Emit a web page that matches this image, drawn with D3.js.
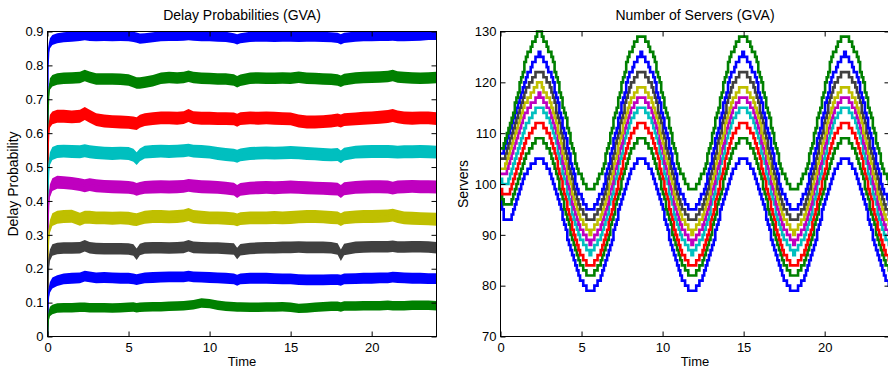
<!DOCTYPE html>
<html>
<head>
<meta charset="utf-8">
<script src="https://cdn.jsdelivr.net/npm/d3@7"></script>
<style>
  body { margin: 0; background: #fff; }
  svg { display: block; }
</style>
</head>
<body>
<svg id="chart" width="888" height="369"></svg>
<script>
// ---- tick values ----
const timeTicks = [0, 5, 10, 15, 20];
const delayTicks = [0, 0.1, 0.2, 0.3, 0.4, 0.5, 0.6, 0.7, 0.8, 0.9];
const serverTicks = [70, 80, 90, 100, 110, 120, 130];

// one colour per staffing level (MATLAB default cycle)
const seriesColors = ["#0000ff", "#008000", "#ff0000", "#00bfbf", "#bf00bf", "#bfbf00", "#404040", "#0000ff", "#008000"];

// ---- delay probabilities: band centre over time, plus noise half-width per series ----
const delayTimes = [
  0, 0.03, 0.08, 0.15, 0.3, 0.6,
  1, 1.5, 2, 2.3, 2.6, 3,
  3.5, 4, 4.5, 5, 5.3, 5.5,
  5.7, 6, 6.5, 7, 7.5, 8,
  8.4, 8.7, 9, 9.5, 10, 10.5,
  11, 11.5, 11.7, 11.9, 12.5, 13,
  13.5, 14, 14.5, 15, 15.5, 16,
  16.5, 17, 17.5, 17.9, 18.1, 18.3,
  19, 19.5, 20, 20.5, 21, 21.3,
  21.6, 22, 22.5, 23, 23.5, 24
];
const delay1 = [
  0, 0.80, 0.85, 0.865, 0.875, 0.88,
  0.883, 0.885, 0.887, 0.889, 0.887, 0.886,
  0.887, 0.886, 0.887, 0.886, 0.884, 0.882,
  0.879, 0.880, 0.883, 0.886, 0.887, 0.887,
  0.888, 0.889, 0.888, 0.886, 0.886, 0.885,
  0.884, 0.880, 0.877, 0.880, 0.884, 0.885,
  0.885, 0.884, 0.885, 0.885, 0.884, 0.885,
  0.885, 0.884, 0.883, 0.881, 0.877, 0.881,
  0.885, 0.886, 0.886, 0.887, 0.887, 0.888,
  0.886, 0.886, 0.887, 0.888, 0.890, 0.890
];
const delay2 = [
  0, 0.66, 0.72, 0.745, 0.755, 0.76,
  0.762, 0.763, 0.764, 0.770, 0.765, 0.760,
  0.760, 0.760, 0.759, 0.757, 0.752, 0.748,
  0.748, 0.750, 0.755, 0.762, 0.764, 0.763,
  0.764, 0.768, 0.764, 0.762, 0.761, 0.760,
  0.760, 0.757, 0.752, 0.756, 0.762, 0.763,
  0.762, 0.762, 0.763, 0.762, 0.765, 0.762,
  0.761, 0.760, 0.759, 0.757, 0.753, 0.758,
  0.763, 0.764, 0.765, 0.766, 0.767, 0.770,
  0.766, 0.764, 0.763, 0.762, 0.763, 0.764
];
const delay3 = [
  0, 0.55, 0.61, 0.635, 0.645, 0.65,
  0.650, 0.648, 0.650, 0.658, 0.650, 0.640,
  0.636, 0.634, 0.633, 0.632, 0.630, 0.628,
  0.635, 0.640, 0.643, 0.645, 0.645, 0.644,
  0.646, 0.652, 0.646, 0.644, 0.644, 0.643,
  0.643, 0.642, 0.638, 0.643, 0.645, 0.644,
  0.645, 0.644, 0.643, 0.642, 0.636, 0.633,
  0.633, 0.634, 0.636, 0.639, 0.636, 0.640,
  0.642, 0.644, 0.645, 0.647, 0.649, 0.652,
  0.648, 0.645, 0.644, 0.645, 0.645, 0.643
];
const delay4 = [
  0, 0.44, 0.50, 0.525, 0.540, 0.546,
  0.547, 0.546, 0.545, 0.548, 0.545, 0.543,
  0.541, 0.540, 0.541, 0.540, 0.535, 0.525,
  0.536, 0.544, 0.546, 0.547, 0.546, 0.547,
  0.548, 0.550, 0.547, 0.546, 0.544, 0.540,
  0.537, 0.535, 0.532, 0.536, 0.540, 0.541,
  0.542, 0.541, 0.542, 0.543, 0.542, 0.540,
  0.539, 0.537, 0.536, 0.537, 0.530, 0.538,
  0.544, 0.545, 0.546, 0.546, 0.546, 0.545,
  0.544, 0.545, 0.545, 0.546, 0.545, 0.544
];
const delay5 = [
  0, 0.34, 0.40, 0.43, 0.448, 0.455,
  0.454, 0.452, 0.448, 0.445, 0.448, 0.445,
  0.443, 0.442, 0.441, 0.440, 0.438, 0.434,
  0.437, 0.440, 0.441, 0.442, 0.441, 0.442,
  0.443, 0.446, 0.444, 0.442, 0.441, 0.440,
  0.438, 0.435, 0.428, 0.434, 0.438, 0.439,
  0.440, 0.439, 0.440, 0.441, 0.440, 0.439,
  0.438, 0.437, 0.436, 0.435, 0.428, 0.436,
  0.440, 0.441, 0.442, 0.442, 0.441, 0.438,
  0.441, 0.442, 0.443, 0.442, 0.442, 0.441
];
const delay6 = [
  0, 0.25, 0.30, 0.325, 0.345, 0.352,
  0.354, 0.355, 0.346, 0.352, 0.352, 0.350,
  0.350, 0.349, 0.350, 0.349, 0.346, 0.345,
  0.348, 0.352, 0.354, 0.354, 0.353, 0.354,
  0.356, 0.360, 0.354, 0.352, 0.350, 0.350,
  0.349, 0.347, 0.344, 0.348, 0.350, 0.350,
  0.350, 0.351, 0.350, 0.351, 0.353, 0.354,
  0.354, 0.353, 0.351, 0.350, 0.345, 0.350,
  0.353, 0.354, 0.354, 0.355, 0.356, 0.358,
  0.354, 0.350, 0.349, 0.348, 0.347, 0.346
];
const delay7 = [
  0, 0.17, 0.22, 0.24, 0.255, 0.260,
  0.261, 0.261, 0.262, 0.268, 0.262, 0.260,
  0.259, 0.259, 0.259, 0.258, 0.255, 0.243,
  0.257, 0.261, 0.262, 0.262, 0.261, 0.262,
  0.263, 0.268, 0.263, 0.262, 0.261, 0.261,
  0.260, 0.258, 0.245, 0.256, 0.260, 0.261,
  0.262, 0.262, 0.263, 0.263, 0.264, 0.263,
  0.263, 0.263, 0.262, 0.258, 0.240, 0.257,
  0.263, 0.264, 0.265, 0.265, 0.265, 0.266,
  0.264, 0.264, 0.265, 0.265, 0.264, 0.262
];
const delay8 = [
  0, 0.10, 0.13, 0.145, 0.158, 0.165,
  0.170, 0.172, 0.173, 0.178, 0.176, 0.173,
  0.174, 0.173, 0.172, 0.172, 0.170, 0.168,
  0.170, 0.173, 0.174, 0.175, 0.176, 0.176,
  0.176, 0.178, 0.176, 0.175, 0.174, 0.173,
  0.172, 0.170, 0.166, 0.170, 0.172, 0.172,
  0.172, 0.171, 0.170, 0.170, 0.168, 0.167,
  0.167, 0.167, 0.168, 0.168, 0.166, 0.170,
  0.171, 0.172, 0.172, 0.173, 0.173, 0.175,
  0.174, 0.173, 0.172, 0.172, 0.171, 0.171
];
const delay9 = [
  0, 0.04, 0.063, 0.074, 0.080, 0.084,
  0.085, 0.085, 0.086, 0.086, 0.085, 0.085,
  0.085, 0.084, 0.085, 0.086, 0.087, 0.085,
  0.086, 0.087, 0.088, 0.088, 0.089, 0.090,
  0.091, 0.092, 0.094, 0.099, 0.097, 0.092,
  0.089, 0.088, 0.087, 0.087, 0.086, 0.086,
  0.087, 0.087, 0.088, 0.086, 0.083, 0.084,
  0.086, 0.088, 0.089, 0.089, 0.087, 0.090,
  0.090, 0.091, 0.091, 0.091, 0.092, 0.091,
  0.091, 0.091, 0.092, 0.092, 0.092, 0.091
];
const delaySpread = [0.015, 0.017, 0.019, 0.019, 0.019, 0.019, 0.017, 0.016, 0.014];

// ---- number of servers: integer staffing, sampled every serverStep hours ----
const serverStep = 0.09817;
const servers1 = [
  97,95,93,93,93,93,93,94,95,96,97,98,99,100,101,102,102,103,103,104,104,104,
  105,105,105,
  105,105,104,104,103,103,102,101,100,99,98,97,96,95,93,
  92,91,89,88,87,86,85,84,83,82,81,81,80,80,79,79,79,
  79,79,80,80,81,81,82,83,84,85,86,87,88,89,91,
  92,93,95,96,97,98,99,100,101,102,103,103,104,104,105,105,105,
  105,105,104,104,103,103,102,101,100,99,98,97,96,95,93,
  92,91,89,88,87,86,85,84,83,82,81,81,80,80,79,79,79,
  79,79,80,80,81,81,82,83,84,85,86,87,88,89,91,
  92,93,95,96,97,98,99,100,101,102,103,103,104,104,105,105,105,
  105,105,104,104,103,103,102,101,100,99,98,97,96,95,93,
  92,91,89,88,87,86,85,84,83,82,81,81,80,80,79,79,79,
  79,79,80,80,81,81,82,83,84,85,86,87,88,89,91,
  92,93,95,96,97,98,99,100,101,102,103,103,104,104,105,105,105,
  105,105,104,104,103,103,102,101,100,99,98,97,96,95,93,
  92,91,89,88,87,86,85,84,83,82,81,81,80,80
];
const servers2 = [
  98,97,96,96,96,96,96,97,98,99,100,101,102,103,104,105,106,106,107,107,108,108,
  109,109,109,
  109,109,108,108,107,107,106,105,104,103,102,101,99,98,97,
  95,94,93,92,90,89,88,87,86,85,84,84,83,83,82,82,82,
  82,82,83,83,84,84,85,86,87,88,89,90,92,93,94,
  96,97,98,99,101,102,103,104,105,106,107,107,108,108,109,109,109,
  109,109,108,108,107,107,106,105,104,103,102,101,99,98,97,
  95,94,93,92,90,89,88,87,86,85,84,84,83,83,82,82,82,
  82,82,83,83,84,84,85,86,87,88,89,90,92,93,94,
  96,97,98,99,101,102,103,104,105,106,107,107,108,108,109,109,109,
  109,109,108,108,107,107,106,105,104,103,102,101,99,98,97,
  95,94,93,92,90,89,88,87,86,85,84,84,83,83,82,82,82,
  82,82,83,83,84,84,85,86,87,88,89,90,92,93,94,
  96,97,98,99,101,102,103,104,105,106,107,107,108,108,109,109,109,
  109,109,108,108,107,107,106,105,104,103,102,101,99,98,97,
  95,94,93,92,90,89,88,87,86,85,84,84,83,83
];
const servers3 = [
  99,98,98,98,98,98,99,100,101,102,103,104,105,106,107,108,109,109,110,110,111,111,
  112,112,112,
  112,112,111,111,110,110,109,108,107,106,105,103,102,101,99,
  98,97,95,94,93,91,90,89,88,87,86,86,85,85,84,84,84,
  84,84,85,85,86,86,87,88,89,90,91,93,94,95,97,
  98,99,101,102,103,105,106,107,108,109,110,110,111,111,112,112,112,
  112,112,111,111,110,110,109,108,107,106,105,103,102,101,99,
  98,97,95,94,93,91,90,89,88,87,86,86,85,85,84,84,84,
  84,84,85,85,86,86,87,88,89,90,91,93,94,95,97,
  98,99,101,102,103,105,106,107,108,109,110,110,111,111,112,112,112,
  112,112,111,111,110,110,109,108,107,106,105,103,102,101,99,
  98,97,95,94,93,91,90,89,88,87,86,86,85,85,84,84,84,
  84,84,85,85,86,86,87,88,89,90,91,93,94,95,97,
  98,99,101,102,103,105,106,107,108,109,110,110,111,111,112,112,112,
  112,112,111,111,110,110,109,108,107,106,105,103,102,101,99,
  98,97,95,94,93,91,90,89,88,87,86,86,85,85
];
const servers4 = [
  101,100,100,100,100,101,102,103,104,105,106,107,108,109,110,111,112,112,113,113,114,114,
  115,115,115,
  115,115,114,114,113,113,112,111,110,109,108,106,105,104,102,
  101,100,98,97,96,94,93,92,91,90,89,89,88,88,87,87,86,
  87,87,88,88,89,89,90,91,92,93,94,96,97,98,100,
  101,102,104,105,106,108,109,110,111,112,113,113,114,114,115,115,115,
  115,115,114,114,113,113,112,111,110,109,108,106,105,104,102,
  101,100,98,97,96,94,93,92,91,90,89,89,88,88,87,87,86,
  87,87,88,88,89,89,90,91,92,93,94,96,97,98,100,
  101,102,104,105,106,108,109,110,111,112,113,113,114,114,115,115,115,
  115,115,114,114,113,113,112,111,110,109,108,106,105,104,102,
  101,100,98,97,96,94,93,92,91,90,89,89,88,88,87,87,86,
  87,87,88,88,89,89,90,91,92,93,94,96,97,98,100,
  101,102,104,105,106,108,109,110,111,112,113,113,114,114,115,115,115,
  115,115,114,114,113,113,112,111,110,109,108,106,105,104,102,
  101,100,98,97,96,94,93,92,91,90,89,89,88,88
];
const servers5 = [
  102,102,102,102,103,104,105,106,107,108,109,110,111,112,113,114,114,115,115,116,116,116,
  117,117,118,
  117,117,116,116,115,115,114,113,112,111,110,108,107,106,104,
  103,102,100,99,98,96,95,94,93,92,91,91,90,90,89,89,88,
  89,89,90,90,91,91,92,93,94,95,96,98,99,100,102,
  103,104,106,107,108,110,111,112,113,114,115,115,116,116,117,117,117,
  117,117,116,116,115,115,114,113,112,111,110,108,107,106,104,
  103,102,100,99,98,96,95,94,93,92,91,91,90,90,89,89,88,
  89,89,90,90,91,91,92,93,94,95,96,98,99,100,102,
  103,104,106,107,108,110,111,112,113,114,115,115,116,116,117,117,117,
  117,117,116,116,115,115,114,113,112,111,110,108,107,106,104,
  103,102,100,99,98,96,95,94,93,92,91,91,90,90,89,89,88,
  89,89,90,90,91,91,92,93,94,95,96,98,99,100,102,
  103,104,106,107,108,110,111,112,113,114,115,115,116,116,117,117,117,
  117,117,116,116,115,115,114,113,112,111,110,108,107,106,104,
  103,102,100,99,98,96,95,94,93,92,91,91,90,90
];
const servers6 = [
  103,103,103,104,105,106,107,108,109,110,111,112,113,114,115,116,116,117,117,118,118,119,
  119,120,120,
  120,119,118,118,117,117,116,115,114,113,112,110,109,108,106,
  105,104,102,101,100,98,97,96,95,94,93,93,92,92,91,91,90,
  91,91,92,92,93,93,94,95,96,97,98,100,101,102,104,
  105,106,108,109,110,112,113,114,115,116,117,117,118,118,119,119,119,
  119,119,118,118,117,117,116,115,114,113,112,110,109,108,106,
  105,104,102,101,100,98,97,96,95,94,93,93,92,92,91,91,90,
  91,91,92,92,93,93,94,95,96,97,98,100,101,102,104,
  105,106,108,109,110,112,113,114,115,116,117,117,118,118,119,119,119,
  119,119,118,118,117,117,116,115,114,113,112,110,109,108,106,
  105,104,102,101,100,98,97,96,95,94,93,93,92,92,91,91,90,
  91,91,92,92,93,93,94,95,96,97,98,100,101,102,104,
  105,106,108,109,110,112,113,114,115,116,117,117,118,118,119,119,119,
  119,119,118,118,117,117,116,115,114,113,112,110,109,108,106,
  105,104,102,101,100,98,97,96,95,94,93,93,92,92
];
const servers7 = [
  105,105,105,106,107,108,109,110,111,112,113,114,115,116,117,118,119,119,120,120,121,121,
  122,122,122,
  122,122,121,121,120,120,119,118,117,116,114,113,112,110,109,
  107,106,105,103,102,101,99,98,97,96,95,95,94,94,93,93,93,
  93,93,94,94,95,95,96,97,98,99,101,102,103,105,106,
  108,109,110,112,113,114,116,117,118,119,120,120,121,121,122,122,122,
  122,122,121,121,120,120,119,118,117,116,114,113,112,110,109,
  107,106,105,103,102,101,99,98,97,96,95,95,94,94,93,93,93,
  93,93,94,94,95,95,96,97,98,99,101,102,103,105,106,
  108,109,110,112,113,114,116,117,118,119,120,120,121,121,122,122,122,
  122,122,121,121,120,120,119,118,117,116,114,113,112,110,109,
  107,106,105,103,102,101,99,98,97,96,95,95,94,94,93,93,93,
  93,93,94,94,95,95,96,97,98,99,101,102,103,105,106,
  108,109,110,112,113,114,116,117,118,119,120,120,121,121,122,122,122,
  122,122,121,121,120,120,119,118,117,116,114,113,112,110,109,
  107,106,105,103,102,101,99,98,97,96,95,95,94,94
];
const servers8 = [
  106,106,107,108,109,110,111,112,113,114,115,116,117,118,119,120,121,122,122,123,124,124,
  125,125,126,
  125,125,124,124,123,122,122,121,120,118,117,116,114,113,111,
  110,109,107,106,104,103,102,100,99,98,98,97,96,96,95,95,95,
  95,95,96,96,97,98,98,99,100,102,103,104,106,107,109,
  110,111,113,114,116,117,118,120,121,122,122,123,124,124,125,125,126,
  125,125,124,124,123,122,122,121,120,118,117,116,114,113,111,
  110,109,107,106,104,103,102,100,99,98,98,97,96,96,95,95,95,
  95,95,96,96,97,98,98,99,100,102,103,104,106,107,109,
  110,111,113,114,116,117,118,120,121,122,122,123,124,124,125,125,126,
  125,125,124,124,123,122,122,121,120,118,117,116,114,113,111,
  110,109,107,106,104,103,102,100,99,98,98,97,96,96,95,95,95,
  95,95,96,96,97,98,98,99,100,102,103,104,106,107,109,
  110,111,113,114,116,117,118,120,121,122,122,123,124,124,125,125,126,
  125,125,124,124,123,122,122,121,120,118,117,116,114,113,111,
  110,109,107,106,104,103,102,100,99,98,98,97,96,96
];
const servers9 = [
  107,107,108,109,110,111,112,113,114,116,117,118,120,121,122,124,125,126,126,127,128,128,
  129,130,130,
  130,129,128,128,127,126,126,125,124,122,121,120,118,117,115,
  114,113,111,110,108,107,106,104,103,102,102,101,100,100,99,99,99,
  99,99,100,100,101,102,102,103,104,106,107,108,110,111,113,
  114,115,117,118,120,121,122,124,125,126,126,127,128,128,129,129,129,
  129,129,128,128,127,126,126,125,124,122,121,120,118,117,115,
  114,113,111,110,108,107,106,104,103,102,102,101,100,100,99,99,99,
  99,99,100,100,101,102,102,103,104,106,107,108,110,111,113,
  114,115,117,118,120,121,122,124,125,126,126,127,128,128,129,129,129,
  129,129,128,128,127,126,126,125,124,122,121,120,118,117,115,
  114,113,111,110,108,107,106,104,103,102,102,101,100,100,99,99,99,
  99,99,100,100,101,102,102,103,104,106,107,108,110,111,113,
  114,115,117,118,120,121,122,124,125,126,126,127,128,128,129,129,129,
  129,129,128,128,127,126,126,125,124,122,121,120,118,117,115,
  114,113,111,110,108,107,106,104,103,102,102,101,100,100
];

const delaySeries = [delay1, delay2, delay3, delay4, delay5, delay6, delay7, delay8, delay9];
const serverSeries = [servers1, servers2, servers3, servers4, servers5, servers6, servers7, servers8, servers9];

// ---- layout ----
const FONT = "'Liberation Sans', Arial, Helvetica, sans-serif";
const plotTop = 31.5, plotBottom = 336.5;
const svg = d3.select("#chart");
svg.append("rect").attr("width", 888).attr("height", 369).attr("fill", "#fff");

function drawFrame(g, x, y, yTickValues, yFormat, title, yLabel, yLabelX) {
  const [x0, x1] = x.range();
  const tick = 5;

  const bottomAxis = g.append("g").attr("transform", `translate(0,${plotBottom})`)
    .call(d3.axisBottom(x).tickValues(timeTicks).tickSizeInner(-tick).tickSizeOuter(0).tickPadding(6).tickFormat(d3.format("d")));
  const leftAxis = g.append("g").attr("transform", `translate(${x0},0)`)
    .call(d3.axisLeft(y).tickValues(yTickValues).tickSizeInner(-tick).tickSizeOuter(0).tickPadding(4).tickFormat(yFormat));
  const topAxis = g.append("g").attr("transform", `translate(0,${plotTop})`)
    .call(d3.axisTop(x).tickValues(timeTicks).tickSizeInner(-tick).tickSizeOuter(0).tickFormat(""));
  const rightAxis = g.append("g").attr("transform", `translate(${x1},0)`)
    .call(d3.axisRight(y).tickValues(yTickValues).tickSizeInner(-tick).tickSizeOuter(0).tickFormat(""));

  [bottomAxis, leftAxis, topAxis, rightAxis].forEach(a => {
    a.attr("font-family", FONT).attr("font-size", 13);
    a.select(".domain").remove();
    a.selectAll(".tick line").attr("stroke", "#000").attr("stroke-width", 1);
    a.selectAll(".tick text").attr("fill", "#000");
  });

  g.append("rect")
    .attr("x", x0).attr("y", plotTop)
    .attr("width", x1 - x0).attr("height", plotBottom - plotTop)
    .attr("fill", "none").attr("stroke", "#000").attr("stroke-width", 1);

  const cx = (x0 + x1) / 2;
  g.append("text").attr("x", cx).attr("y", 19.5)
    .attr("text-anchor", "middle").attr("font-family", FONT).attr("font-size", 14)
    .attr("fill", "#000").text(title);
  g.append("text").attr("x", cx).attr("y", 366)
    .attr("text-anchor", "middle").attr("font-family", FONT).attr("font-size", 13)
    .attr("fill", "#000").text("Time");
  g.append("text")
    .attr("transform", `translate(${yLabelX},${(plotTop + plotBottom) / 2}) rotate(-90)`)
    .attr("text-anchor", "middle").attr("font-family", FONT).attr("font-size", 14)
    .attr("fill", "#000").text(yLabel);
}

// ---- left panel: delay probabilities ----
const xDelay = d3.scaleLinear().domain([0, 24]).range([47.5, 436.5]);
const yDelay = d3.scaleLinear().domain([0, 0.9]).range([plotBottom, plotTop]);

const left = svg.append("g");
svg.append("clipPath").attr("id", "clipLeft").append("rect")
  .attr("x", 47.5).attr("y", plotTop).attr("width", 389).attr("height", plotBottom - plotTop);

const leftPlot = left.append("g").attr("clip-path", "url(#clipLeft)");
delaySeries.forEach((vals, i) => {
  const pts = delayTimes.map((t, j) => [t, vals[j]]);
  const w = delaySpread[i];
  leftPlot.append("path")
    .datum(pts)
    .attr("fill", seriesColors[i])
    .attr("d", d3.area()
      .x(d => xDelay(d[0]))
      .y0(d => yDelay(d[1] === 0 ? 0 : d[1] - w))
      .y1(d => yDelay(d[1] === 0 ? 0 : d[1] + w)));
  leftPlot.append("path")
    .datum(pts)
    .attr("fill", "none")
    .attr("stroke", seriesColors[i])
    .attr("stroke-width", 1.5)
    .attr("d", d3.line().x(d => xDelay(d[0])).y(d => yDelay(d[1])));
});
drawFrame(left, xDelay, yDelay, delayTicks, d => d === 0 ? "0" : d3.format(".1f")(d),
  "Delay Probabilities (GVA)", "Delay Probability", 18);

// ---- right panel: number of servers ----
const xServ = d3.scaleLinear().domain([0, 24]).range([500.5, 889.5]);
const yServ = d3.scaleLinear().domain([70, 130]).range([plotBottom, plotTop]);

const right = svg.append("g");
svg.append("clipPath").attr("id", "clipRight").append("rect")
  .attr("x", 500.5).attr("y", plotTop - 2).attr("width", 389).attr("height", plotBottom - plotTop + 4);

const rightPlot = right.append("g").attr("clip-path", "url(#clipRight)");
serverSeries.forEach((vals, i) => {
  rightPlot.append("path")
    .datum(vals.map((v, k) => [k * serverStep, v]))
    .attr("fill", "none")
    .attr("stroke", seriesColors[i])
    .attr("stroke-width", 2.6)
    .attr("stroke-linejoin", "miter")
    .attr("d", d3.line().curve(d3.curveStepAfter)
      .x(d => xServ(d[0])).y(d => yServ(d[1])));
});
drawFrame(right, xServ, yServ, serverTicks, d3.format("d"),
  "Number of Servers (GVA)", "Servers", 467.5);
</script>
</body>
</html>
